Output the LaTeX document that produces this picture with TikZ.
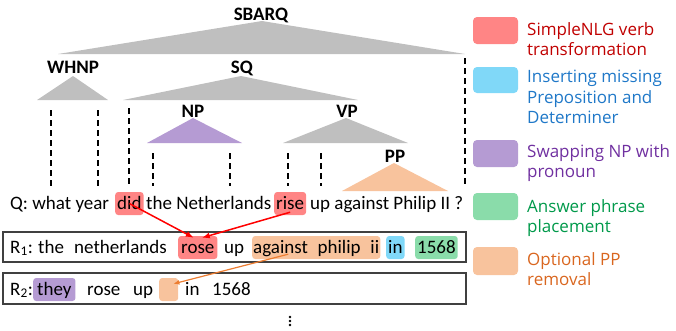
\documentclass[tikz,border=0pt]{standalone}
\usepackage{fontspec}
\setmainfont{Carlito}
\newfontfamily\legendfont{Open Sans}
\usetikzlibrary{calc,arrows.meta}

\definecolor{treegray}{HTML}{BFBFBF}
\definecolor{verbred}{HTML}{FF8585}
\definecolor{verbtext}{HTML}{C00000}
\definecolor{prepblue}{HTML}{80D8F8}
\definecolor{preptext}{HTML}{1F78C8}
\definecolor{nppurple}{HTML}{B59BD3}
\definecolor{nptext}{HTML}{7030A0}
\definecolor{ansgreen}{HTML}{8ADCAA}
\definecolor{anstext}{HTML}{00994A}
\definecolor{pporange}{HTML}{F8C39D}
\definecolor{pptext}{HTML}{D9661F}
\definecolor{arroworange}{HTML}{ED7D31}
\definecolor{boxgray}{HTML}{404040}

\tikzset{
  word/.style={anchor=base west,inner sep=0pt,font=\fontsize{19}{23}\selectfont},
  hilite/.style={word,fill=#1,rounded corners=3pt,inner xsep=2pt,inner ysep=3pt,text height=14pt,text depth=3pt},
  tag/.style={anchor=base,inner sep=0pt,font=\fontsize{19}{23}\selectfont\bfseries},
  leaf/.style={line width=1.6pt,dash pattern=on 6pt off 4pt},
  legbox/.style={fill=#1,rounded corners=4pt},
  legtext/.style={anchor=north west,inner sep=0pt,align=left,text=#1,font=\legendfont\fontsize{17}{20.5}\selectfont},
  edit/.style={->,line width=1.5pt,red},
}

\begin{document}
\begin{tikzpicture}[x=1pt,y=-1pt,>={Latex[length=8pt,width=6pt]}]
  \useasboundingbox (0,0) rectangle (676,330);
  % parse tree
  \fill[treegray] (262,21) -- (465,54) -- (58,54) -- cycle;
  \fill[treegray] (73,76) -- (108,100) -- (37,100) -- cycle;
  \fill[treegray] (241,76) -- (358,100) -- (123,100) -- cycle;
  \fill[nppurple] (193,118) -- (242,143) -- (147,143) -- cycle;
  \fill[treegray] (346,118) -- (408,143) -- (283,143) -- cycle;
  \fill[pporange] (394,163) -- (448,191) -- (342,191) -- cycle;
  \node[tag] (sbarq) at (261,20) {SBARQ};
  \node[tag] (whnp) at (73,73) {WHNP};
  \node[tag] (sq) at (242,73) {SQ};
  \node[tag] (np) at (193,117) {NP};
  \node[tag] (vp) at (347,117) {VP};
  \node[tag] (pp) at (395,162) {PP};
  \foreach \x/\y in {51/110,98/110,129/108,153/153,230/153,288/153,321/153,465/58}
    \draw[leaf] (\x,\y) -- (\x,186);
  % question
  \node[word] (q1) at (10,209) {Q: what year};
  \node[hilite=verbred] (did) at (115,209) {did};
  \node[word] (q2) at (146,209) {the Netherlands};
  \node[hilite=verbred] (rise) at (274,209) {rise};
  \node[word] (q3) at (310,209) {up against Philip II ?};
  % first rewrite
  \draw[boxgray,line width=1.2pt] (3,232) rectangle (466,262);
  \node[word] (r1) at (10,253) {R\textsubscript{1}:};
  \node[word] (r1a) at (38,253) {the};
  \node[word] (r1b) at (74,253) {netherlands};
  \node[hilite=verbred,inner xsep=3pt] (rose) at (178,253) {rose};
  \node[word] (r1c) at (224,253) {up};
  \node[hilite=pporange,inner xsep=1pt] (against) at (252,253) {against\hspace{5.5pt} philip\hspace{5.5pt} ii};
  \node[hilite=prepblue] (prep) at (386,253) {in};
  \node[hilite=ansgreen] (answer) at (415,253) {1568};
  % second rewrite
  \draw[boxgray,line width=1.2pt] (3,273) rectangle (466,304);
  \node[word] (r2) at (10,295) {R\textsubscript{2}:};
  \node[hilite=nppurple,inner xsep=4pt] (they) at (33,295) {they};
  \node[word] (r2a) at (87,295) {rose};
  \node[word] (r2b) at (133,295) {up};
  \node[hilite=pporange,minimum width=19pt] (gap) at (159,295) {};
  \node[word] (r2c) at (185,295) {in};
  \node[word] (r2d) at (212,295) {1568};
  \foreach \y in {317,321,325}
    \fill (290,\y) circle (1.3pt);
  % edits
  \draw[edit] (did.center) -- ($(rose.north)+(-4,2)$);
  \draw[edit] ($(rise.south)+(0,-3)$) -- ($(rose.north)+(4,2)$);
  \draw[->,arroworange,line width=1.2pt,>={Latex[length=6pt,width=5pt]}] ($(against.south)+(-28,-5)$) -- ($(gap.north east)+(-5,6)$);
  % legend
  \fill[legbox=verbred] (473,17) rectangle (518,44);
  \fill[legbox=prepblue] (473,67) rectangle (518,93);
  \fill[legbox=nppurple] (473,140) rectangle (518,167);
  \fill[legbox=ansgreen] (473,193) rectangle (518,220);
  \fill[legbox=pporange] (473,247) rectangle (518,275);
  \node[legtext=verbtext] (lverb) at (527,22) {SimpleNLG verb\\transformation};
  \node[legtext=preptext] (lprep) at (527,70) {Inserting missing\\Preposition and\\Determiner};
  \node[legtext=nptext] (lnp) at (527,144) {Swapping NP with\\pronoun};
  \node[legtext=anstext] (lans) at (527,199) {Answer phrase\\placement};
  \node[legtext=pptext] (lpp) at (527,252) {Optional PP\\removal};
\end{tikzpicture}
\end{document}
